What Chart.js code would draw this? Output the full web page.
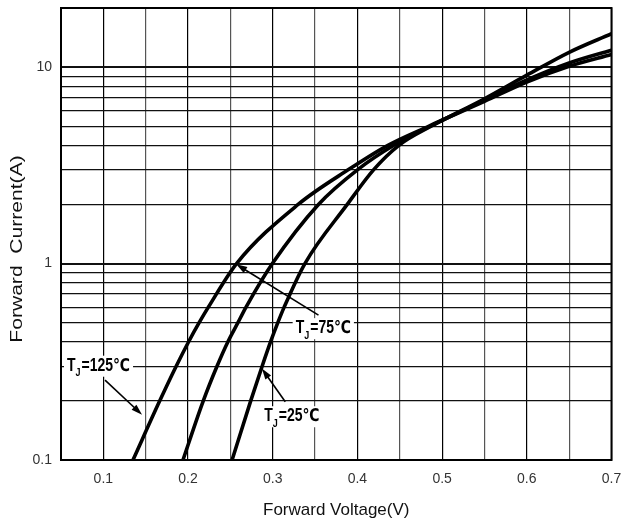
<!DOCTYPE html>
<html>
<head>
<meta charset="utf-8">
<script src="https://cdn.jsdelivr.net/npm/chart.js@4.4.1/dist/chart.umd.min.js"></script>
<style>
  html, body { margin: 0; padding: 0; background: #fff; }
  #chart { display: block; }
</style>
</head>
<body>
<canvas id="chart" width="622" height="527"></canvas>
<script>
// Forward voltage (V) / forward current (A) points
const voltage125 = [0.135, 0.1666, 0.186, 0.2007, 0.2131, 0.224, 0.2573, 0.330, 0.389, 0.436, 0.484, 0.55, 0.60, 0.65, 0.70];
const current125 = [0.1, 0.2, 0.3, 0.4, 0.5, 0.6, 1, 2, 3, 4, 5, 6.7, 8.4, 10.1, 11.6];

const voltage75 = [0.194, 0.218, 0.2342, 0.2471, 0.2589, 0.2685, 0.2996, 0.354, 0.400, 0.443, 0.486, 0.55, 0.60, 0.65, 0.70];
const current75 = [0.1, 0.2, 0.3, 0.4, 0.5, 0.6, 1, 2, 3, 4, 5, 6.8, 8.6, 10.5, 12.2];

const voltage25 = [0.252, 0.274, 0.2875, 0.2975, 0.306, 0.3135, 0.338, 0.388, 0.419, 0.449, 0.487, 0.55, 0.60, 0.65, 0.70];
const current25 = [0.1, 0.2, 0.3, 0.4, 0.5, 0.6, 1, 2, 3, 4, 5, 6.9, 9.1, 11.9, 14.8];

// grid lines and tick labels
const xGridValues = [0.05, 0.1, 0.15, 0.2, 0.25, 0.3, 0.35, 0.4, 0.45, 0.5, 0.55, 0.6, 0.65, 0.7];
const xLabelValues = [0.1, 0.2, 0.3, 0.4, 0.5, 0.6, 0.7];
const xLabelTexts = ['0.1', '0.2', '0.3', '0.4', '0.5', '0.6', '0.7'];

const yGridValues = [0.1, 0.2, 0.3, 0.4, 0.5, 0.6, 0.7, 0.8, 0.9, 1, 2, 3, 4, 5, 6, 7, 8, 9, 10, 20];
const yLabelValues = [0.1, 1, 10];
const yLabelTexts = ['0.1', '1', '10'];

const seriesTemps = ['125', '75', '25'];

const tickFont = { family: "'Liberation Sans', Arial, sans-serif", size: 14 };

function toPoints(vs, is) {
  return vs.map((v, i) => ({ x: v, y: is[i] }));
}

function labelFor(value, values, texts) {
  const i = values.findIndex(v => Math.abs(v - value) < 1e-9);
  return i >= 0 ? texts[i] : '';
}

function curve(label, data) {
  return {
    label: label,
    data: data,
    showLine: true,
    borderColor: '#000',
    borderWidth: 3.6,
    pointRadius: 0,
    cubicInterpolationMode: 'monotone',
    fill: false
  };
}

// arrow callouts, placed in data units (volts, amps)
const callouts = [
  { temp: seriesTemps[0], tx: 0.0943, ty: 0.302, from: [0.102, 0.255], to: [0.1457, 0.170] },
  { temp: seriesTemps[1], tx: 0.3597, ty: 0.469, from: [0.354, 0.546], to: [0.2569, 0.992] },
  { temp: seriesTemps[2], tx: 0.3225, ty: 0.167, from: [0.3148, 0.198], to: [0.2872, 0.292] }
];

function drawArrow(ctx, x1, y1, x2, y2) {
  const ang = Math.atan2(y2 - y1, x2 - x1);
  const len = 11, half = 3.5;
  ctx.beginPath();
  ctx.moveTo(x1, y1);
  ctx.lineTo(x2 - Math.cos(ang) * len * 0.6, y2 - Math.sin(ang) * len * 0.6);
  ctx.lineWidth = 1.6;
  ctx.strokeStyle = '#000';
  ctx.stroke();
  ctx.beginPath();
  ctx.moveTo(x2, y2);
  ctx.lineTo(x2 - Math.cos(ang) * len - Math.sin(ang) * half, y2 - Math.sin(ang) * len + Math.cos(ang) * half);
  ctx.lineTo(x2 - Math.cos(ang) * len + Math.sin(ang) * half, y2 - Math.sin(ang) * len - Math.cos(ang) * half);
  ctx.closePath();
  ctx.fillStyle = '#000';
  ctx.fill();
}

const framePlugin = {
  id: 'frameAndNotes',
  beforeDatasetsDraw(chart) {
    const { ctx, chartArea: a } = chart;
    ctx.save();
    ctx.strokeStyle = '#000';
    ctx.lineWidth = 2;
    ctx.strokeRect(a.left, a.top, a.right - a.left, a.bottom - a.top);
    ctx.restore();
  },
  afterDatasetsDraw(chart) {
    const { ctx } = chart;
    const xs = chart.scales.x, ys = chart.scales.y;
    const bold = "bold 14px 'Liberation Sans', Arial, 'DejaVu Sans', sans-serif";
    const sub = "bold 9px 'Liberation Sans', Arial, sans-serif";
    const stretch = 1.25;

    callouts.forEach(c => {
      ctx.save();
      drawArrow(ctx, xs.getPixelForValue(c.from[0]), ys.getPixelForValue(c.from[1]),
                xs.getPixelForValue(c.to[0]), ys.getPixelForValue(c.to[1]));

      const cx = xs.getPixelForValue(c.tx);
      const cy = ys.getPixelForValue(c.ty);
      const rest = '=' + c.temp + '℃';
      ctx.font = bold;
      const wT = ctx.measureText('T').width;
      const wRest = ctx.measureText(rest).width;
      ctx.font = sub;
      const wJ = ctx.measureText('J').width + 1;
      const total = wT + wJ + wRest;
      const left = cx - total / 2;

      ctx.fillStyle = '#fff';
      ctx.fillRect(left - 3, cy - 10, total + 6, 21);

      ctx.translate(0, cy);
      ctx.scale(1, stretch);
      ctx.fillStyle = '#000';
      ctx.textBaseline = 'middle';
      ctx.textAlign = 'left';
      ctx.font = bold;
      ctx.fillText('T', left, 0);
      ctx.font = sub;
      ctx.fillText('J', left + wT, 6);
      ctx.font = bold;
      ctx.fillText(rest, left + wT + wJ, 0);
      ctx.restore();
    });
  },
  afterDraw(chart) {
    const { ctx, chartArea: a } = chart;
    ctx.save();
    ctx.translate(17, (a.top + a.bottom) / 2 + 15);
    ctx.rotate(-Math.PI / 2);
    ctx.scale(1.24, 1);
    ctx.font = "17px 'Liberation Sans', Arial, sans-serif";
    ctx.fillStyle = '#111';
    ctx.textAlign = 'center';
    ctx.textBaseline = 'middle';
    ctx.fillText('Forward  Current(A)', 0, 0);
    ctx.restore();
  }
};

new Chart(document.getElementById('chart'), {
  type: 'scatter',
  data: {
    datasets: [
      curve('TJ=125℃', toPoints(voltage125, current125)),
      curve('TJ=75℃', toPoints(voltage75, current75)),
      curve('TJ=25℃', toPoints(voltage25, current25))
    ]
  },
  options: {
    responsive: false,
    animation: false,
    devicePixelRatio: 1,
    layout: { padding: { top: 8, right: 10.5, left: 0, bottom: 0 } },
    plugins: { legend: { display: false }, tooltip: { enabled: false } },
    scales: {
      x: {
        type: 'linear',
        min: 0.05,
        max: 0.7,
        afterBuildTicks: s => { s.ticks = xGridValues.map(v => ({ value: v })); },
        afterFit: s => { s.height = 67; s.paddingLeft = 0; s.paddingRight = 0; },
        ticks: {
          autoSkip: false,
          maxRotation: 0,
          padding: 11,
          color: '#333',
          font: tickFont,
          callback: v => labelFor(v, xLabelValues, xLabelTexts)
        },
        grid: {
          drawTicks: false,
          lineWidth: 1.2,
          color: c => {
            const v = c.tick ? c.tick.value : 0;
            return Math.abs(v * 10 - Math.round(v * 10)) < 1e-6 ? '#000' : '#555';
          }
        },
        border: { display: false },
        title: {
          display: true,
          text: 'Forward Voltage(V)',
          color: '#111',
          font: { family: "'Liberation Sans', Arial, sans-serif", size: 17 },
          padding: { top: 0, bottom: 6 }
        }
      },
      y: {
        type: 'logarithmic',
        min: 0.1,
        max: 20,
        afterBuildTicks: s => { s.ticks = yGridValues.map(v => ({ value: v })); },
        afterFit: s => { s.width = 61; s.paddingTop = 0; s.paddingBottom = 0; },
        ticks: {
          autoSkip: false,
          padding: 9,
          color: '#333',
          font: tickFont,
          callback: v => labelFor(v, yLabelValues, yLabelTexts)
        },
        grid: {
          drawTicks: false,
          color: '#111',
          lineWidth: c => (c.tick && yLabelValues.includes(c.tick.value)) ? 2 : 1.2
        },
        border: { display: false }
      }
    }
  },
  plugins: [framePlugin]
});
</script>
</body>
</html>
